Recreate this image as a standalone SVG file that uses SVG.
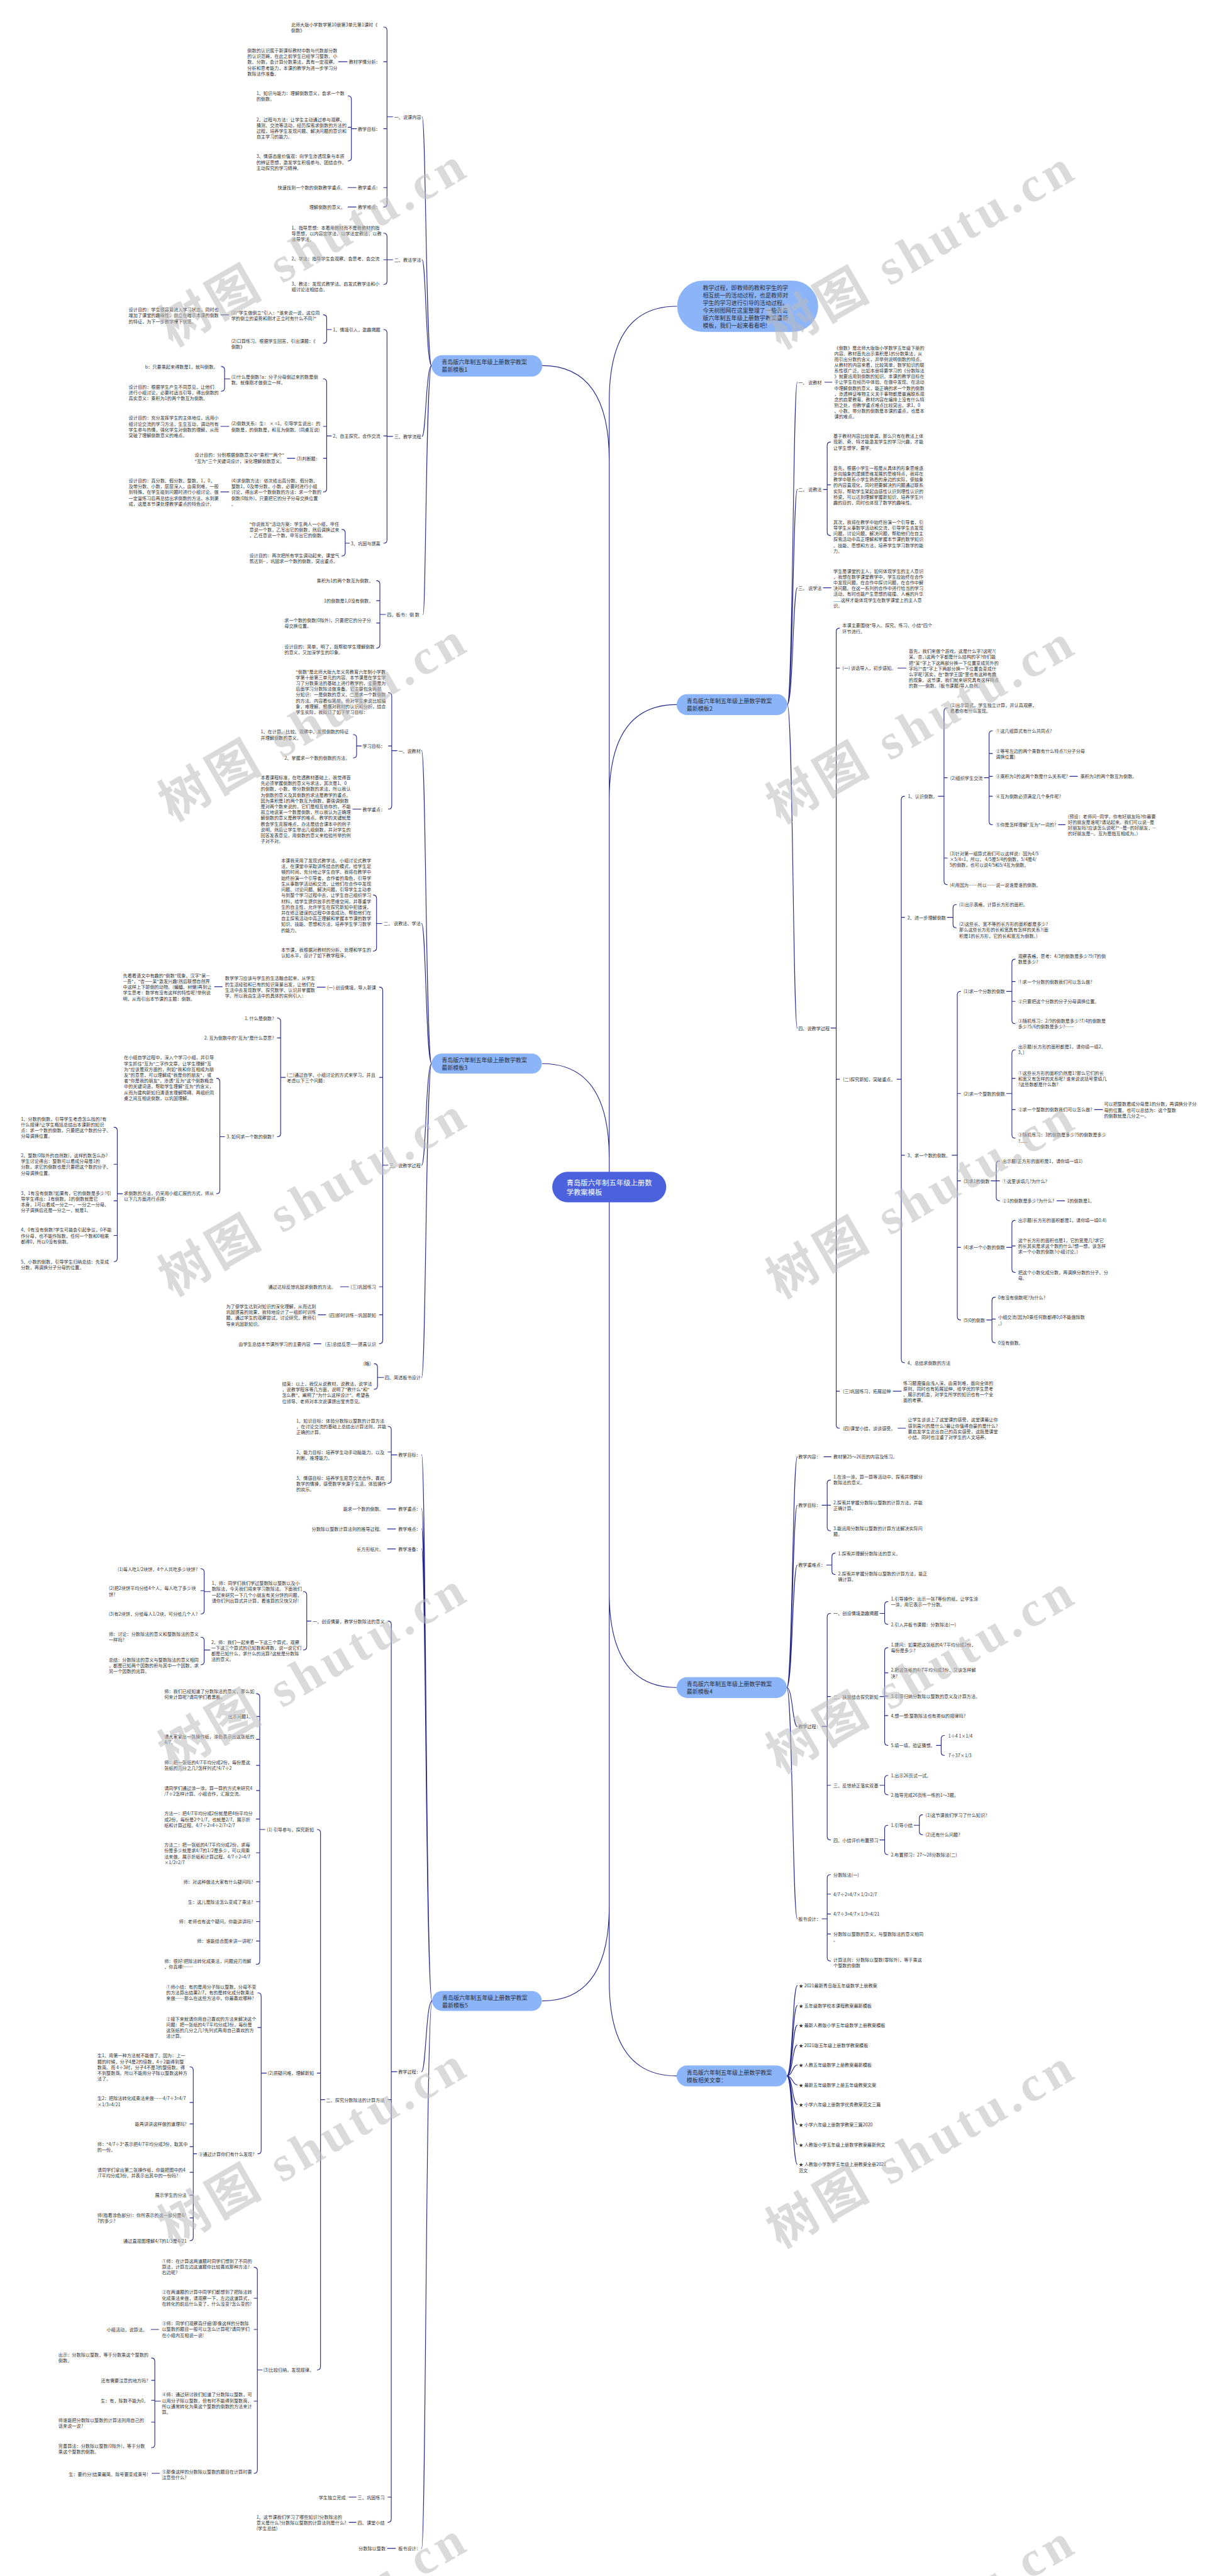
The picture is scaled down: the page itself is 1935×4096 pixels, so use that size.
<svg xmlns="http://www.w3.org/2000/svg" width="1935" height="4096" viewBox="0 0 1935 4096">
<style>
text,tspan{dominant-baseline:central}
.t{font-family:"Noto Sans CJK SC","Liberation Sans",sans-serif;font-size:9.5px;fill:#333}
.e{text-anchor:end}
.nt{font-family:"Noto Sans CJK SC","Liberation Sans",sans-serif;font-size:12px;fill:#2b2f3a}
.rt{font-family:"Noto Sans CJK SC","Liberation Sans",sans-serif;font-size:15px;fill:#fff}
.c{fill:none;stroke:#27298a;stroke-width:1.5;stroke-linecap:round}
.nd{fill:#8cb4f8}
.wm{font-family:"Liberation Serif","Noto Sans CJK SC",serif;font-size:105px;font-weight:bold;fill:#bdbdbd;opacity:.55}
</style>
<rect width="1935" height="4096" fill="#fff"/>
<g transform="scale(0.755)">
<g id="connectors">
<path class="c" d="M1142 770Q1283 770 1283 970V2500M1142 2240Q1283 2240 1283 2440V2500M1142 4214Q1283 4214 1283 4014V2500M1425 645Q1283 645 1283 845V2500M1425 1484Q1283 1484 1283 1684V2500M1425 3554Q1283 3554 1283 3354V2500M1425 4372Q1283 4372 1283 4172V2500"/>
<path class="c" d="M909 770C897 770 897 246 889 246M909 770C897 770 897 547 889 547M909 770C897 770 897 919 889 919M909 770C897 770 897 1294 891 1294"/>
<path class="c" d="M827 246H815M808 57Q815 57 815 64V429Q815 436 808 436M815 130H808M815 271H808M815 395H808M713 130H731M751 271H740M733 202Q740 202 740 209V332Q740 339 733 339M740 268H733M733 395H750M733 436H750"/>
<path class="c" d="M827 547H815M808 491Q815 491 815 498V592Q815 599 808 599M815 547H808"/>
<path class="c" d="M827 919H815M808 694Q815 694 815 701V1137Q815 1144 808 1144M815 918H808M698 694H688M681 663Q688 663 688 670V716Q688 723 681 723M465 663H482M698 918H688M681 798Q688 798 688 805V1029Q688 1036 681 1036M688 898H681M688 965H681M484 798H473M466 772Q473 772 473 779V817Q473 824 466 824M465 898H482M605 965H621M465 1036H482M736 1144H727M720 1115Q727 1115 727 1122V1164Q727 1171 720 1171"/>
<path class="c" d="M812 1294H800M793 1223Q800 1223 800 1230V1358Q800 1365 793 1365M800 1265H793M800 1312H793"/>
<path class="c" d="M909 2240C897 2240 897 1581 888 1581M909 2240C897 2240 897 1945 888 1945M909 2240C897 2240 897 2454 888 2454M909 2240C897 2240 897 2901 888 2901"/>
<path class="c" d="M836 1581H825M818 1459Q825 1459 825 1466V1697Q825 1704 818 1704M825 1571H818M761 1571H751M744 1547Q751 1547 751 1554V1589Q751 1596 744 1596M743 1704H760"/>
<path class="c" d="M804 1945H793M786 1885Q793 1885 793 1892V1996Q793 2003 786 2003"/>
<path class="c" d="M817 2454H806M799 2079Q806 2079 806 2086V2823Q806 2830 799 2830M806 2269H799M806 2710H799M806 2769H799M668 2079H685M452 2078H468M601 2269H591M584 2144Q591 2144 591 2151V2387Q591 2394 584 2394M591 2186H584M473 2394H463M456 2271Q463 2271 463 2278V2507Q463 2514 456 2514M258 2514H247M240 2374Q247 2374 247 2381V2650Q247 2657 240 2657M247 2452H240M247 2529H240M247 2602H240M717 2710H734M670 2769H686M661 2830H676"/>
<path class="c" d="M808 2901H795M788 2872Q795 2872 795 2879V2919Q795 2926 788 2926"/>
<path class="c" d="M910 4214C897 4214 897 3064 888 3064M910 4214C897 4214 897 3178 888 3178M910 4214C897 4214 897 3220 888 3220M910 4214C897 4214 897 3262 888 3262M910 4214C897 4214 897 4363 888 4363M910 4214C897 4214 897 5367 888 5367"/>
<path class="c" d="M836 3064H824M817 3004Q824 3004 824 3011V3117Q824 3124 817 3124M824 3058H817M816 3178H833M816 3220H833M816 3262H833M816 5367H833"/>
<path class="c" d="M836 4363H824M817 3414Q824 3414 824 3421V5305Q824 5312 817 5312M824 4422H817M824 5259H817M655 3414H646M639 3352Q646 3352 646 3359V3468Q646 3475 639 3475M443 3352H430M423 3304Q430 3304 430 3311V3392Q430 3399 423 3399M430 3350H423M442 3475H430M423 3448Q430 3448 430 3455V3499Q430 3506 423 3506"/>
<path class="c" d="M684 4422H675M668 3853Q675 3853 675 3860V4984Q675 4991 668 4991M675 4366H668M558 3853H547M540 3567Q547 3567 547 3574V4130Q547 4137 540 4137M547 3615H540M547 3663H540M547 3718H540M547 3771H540M547 3831H540M547 3902H540M547 3963H540M547 4005H540M547 4047H540M547 4088H540"/>
<path class="c" d="M561 4366H550M543 4197Q550 4197 550 4204V4529Q550 4536 543 4536M550 4270H543M414 4536H407M400 4353Q407 4353 407 4360V4712Q407 4719 400 4719M407 4428H400M407 4473H400M407 4521H400M407 4575H400M407 4623H400M407 4671H400"/>
<path class="c" d="M552 4991H542M535 4775Q542 4775 542 4782V5202Q542 5209 535 5209M542 4840H535M542 4906H535M542 5057H535M318 4906H334M338 5057H326M319 4966Q326 4966 326 4973V5148Q326 5155 319 5155M326 5013H319M326 5055H319M326 5101H319M320 5209H336M735 5259H750M735 5312H750"/>
<path class="c" d="M1658 1484C1670 1484 1670 805 1679 805M1658 1484C1670 1484 1670 1031 1679 1031M1658 1484C1670 1484 1670 1238 1679 1238M1658 1484C1670 1484 1670 2165 1679 2165"/>
<path class="c" d="M1737 805H1752M1734 1031H1742M1749 931Q1742 931 1742 938V1121Q1742 1128 1749 1128M1742 1021H1749M1734 1238H1750"/>
<path class="c" d="M1750 2165H1761M1768 1323Q1761 1323 1761 1330V3001Q1761 3008 1768 3008M1761 1407H1768M1761 2273H1768M1761 2930H1768M1891 1407H1908M1881 2930H1898M1891 3008H1907"/>
<path class="c" d="M1889 2273H1898M1905 1677Q1898 1677 1898 1684V2863Q1898 2870 1905 2870M1898 1932H1905M1898 2433H1905M1976 1677H1988M1995 1491Q1988 1491 1988 1498V1856Q1988 1863 1995 1863M1988 1638H1995M1988 1807H1995M2073 1638H2083M2090 1539Q2083 1539 2083 1546V1730Q2083 1737 2090 1737M2083 1587H2090M2083 1635H2090M2083 1677H2090M2253 1635H2269M2229 1737H2243"/>
<path class="c" d="M1995 1932H2007M2014 1905Q2007 1905 2007 1912V1947Q2007 1954 2014 1954M2005 2433H2016M2023 2088Q2016 2088 2016 2095V2773Q2016 2780 2023 2780M2016 2303H2023M2016 2487H2023M2016 2627H2023"/>
<path class="c" d="M2120 2088H2131M2138 2020Q2131 2020 2131 2027V2149Q2131 2156 2138 2156M2131 2067H2138M2131 2109H2138M2120 2303H2131M2138 2211Q2131 2211 2131 2218V2390Q2131 2397 2138 2397M2131 2271H2138M2131 2337H2138M2305 2337H2322M2087 2487H2098M2105 2445Q2098 2445 2098 2452V2522Q2098 2529 2105 2529M2098 2487H2105M2226 2529H2242M2120 2627H2131M2138 2570Q2131 2570 2131 2577V2673Q2131 2680 2138 2680M2131 2624H2138M2078 2780H2089M2096 2732Q2089 2732 2089 2739V2821Q2089 2828 2096 2828M2089 2778H2096"/>
<path class="c" d="M1657 3554C1669 3554 1669 3068 1679 3068M1657 3554C1669 3554 1669 3170 1679 3170M1657 3554C1669 3554 1669 3296 1679 3296M1657 3554C1669 3554 1669 3636 1679 3636M1657 3554C1669 3554 1669 4041 1679 4041"/>
<path class="c" d="M1735 3068H1750M1731 3170H1742M1749 3117Q1742 3117 1742 3124V3217Q1742 3224 1749 3224M1742 3170H1749M1741 3296H1752M1759 3271Q1752 3271 1752 3278V3309Q1752 3316 1759 3316"/>
<path class="c" d="M1731 3636H1742M1749 3398Q1742 3398 1742 3405V3868Q1742 3875 1749 3875M1742 3573H1749M1742 3760H1749M1853 3398H1863M1870 3373Q1863 3373 1863 3380V3414Q1863 3421 1870 3421M1853 3573H1863M1870 3470Q1863 3470 1863 3477V3669Q1863 3676 1870 3676M1863 3523H1870M1863 3572H1870M1863 3613H1870M1972 3676H1982M1989 3655Q1982 3655 1982 3662V3690Q1982 3697 1989 3697M1853 3760H1863M1870 3739Q1863 3739 1863 3746V3773Q1863 3780 1870 3780M1853 3875H1863M1870 3844Q1863 3844 1863 3851V3899Q1863 3906 1870 3906M1925 3844H1936M1943 3822Q1936 3822 1936 3829V3857Q1936 3864 1943 3864"/>
<path class="c" d="M1731 4041H1742M1749 3948Q1742 3948 1742 3955V4123Q1742 4130 1749 4130M1742 3989H1749M1742 4031H1749M1742 4073H1749"/>
<path class="c" d="M1657 4372C1669 4372 1669 4182 1679 4182M1657 4372C1669 4372 1669 4224 1679 4224M1657 4372C1669 4372 1669 4265 1679 4265M1657 4372C1669 4372 1669 4307 1679 4307M1657 4372C1669 4372 1669 4349 1679 4349M1657 4372C1669 4372 1669 4391 1679 4391M1657 4372C1669 4372 1669 4432 1679 4432M1657 4372C1669 4372 1669 4474 1679 4474M1657 4372C1669 4372 1669 4516 1679 4516M1657 4372C1669 4372 1669 4558 1679 4558"/>
</g>

<g id="root"><rect x="1163" y="2468" width="240" height="64" rx="32" fill="#4b62dc"/><text class="rt" x="1193" y="2490"><tspan x="1193" dy="0">青岛版六年制五年级上册数</tspan><tspan x="1193" dy="20">学教案模板</tspan></text></g>

<g id="intro"><rect class="nd" x="1426" y="591" width="297" height="108" rx="54"/><text class="nt" x="1480" y="605"><tspan x="1480" dy="0">教学过程，即教师的教和学生的学</tspan><tspan x="1480" dy="16">相互统一的活动过程，也是教师对</tspan><tspan x="1480" dy="16">学生的学习进行引导的活动过程。</tspan><tspan x="1480" dy="16">今天树图网在这里整理了一些青岛</tspan><tspan x="1480" dy="16">版六年制五年级上册数学教案最新</tspan><tspan x="1480" dy="16">模板，我们一起来看看吧!</tspan></text></g>

<g id="branch1">
<rect class="nd" x="909" y="748" width="233" height="45" rx="22.5"/><text class="nt" x="930" y="762"><tspan x="930" dy="0">青岛版六年制五年级上册数学教案</tspan><tspan x="930" dy="16">最新模板1</tspan></text>
<text class="t" x="830" y="246">一、说课内容</text>
<text class="t" x="613" y="52"><tspan x="613" dy="0">北师大版小学数学第10册第3单元第1课时《</tspan><tspan x="613" dy="12.2">倒数》</tspan></text>
<text class="t e" x="801" y="130">教材学情分析：</text>
<text class="t" x="521" y="106"><tspan x="521" dy="0">倒数的认识属于新课标教材中数与代数部分数</tspan><tspan x="521" dy="12.2">的认识范畴，在此之前学生已经学习整数、小</tspan><tspan x="521" dy="12.2">数、分数，会计算分数乘法，具有一定观察、</tspan><tspan x="521" dy="12.2">分析和思考能力，本课的教学为进一步学习分</tspan><tspan x="521" dy="12.2">数除法作准备。</tspan></text>
<text class="t e" x="801" y="271">教学目标：</text>
<text class="t" x="540" y="196"><tspan x="540" dy="0">1、知识与能力：理解倒数意义，会求一个数</tspan><tspan x="540" dy="12.2">的倒数。</tspan></text>
<text class="t" x="540" y="251"><tspan x="540" dy="0">2、过程与方法：让学生主动通过参与观察、</tspan><tspan x="540" dy="12.2">猜测、交流等活动，经历探索求倒数的方法的</tspan><tspan x="540" dy="12.2">过程，培养学生发现问题、解决问题的意识和</tspan><tspan x="540" dy="12.2">自主学习的能力。</tspan></text>
<text class="t" x="540" y="329"><tspan x="540" dy="0">3、情感态度价值观：向学生渗透现象与本质</tspan><tspan x="540" dy="12.2">的辨证思想，激发学生积极参与、团结合作、</tspan><tspan x="540" dy="12.2">主动探究的学习精神。</tspan></text>
<text class="t e" x="801" y="395">教学重点：</text>
<text class="t e" x="727" y="395">快速找到一个数的倒数教学重点。</text>
<text class="t e" x="801" y="436">教学难点：</text>
<text class="t e" x="727" y="436">理解倒数的意义。</text>
<text class="t" x="830" y="547">二、教法学法</text>
<text class="t" x="614" y="479"><tspan x="614" dy="0">1、指导思想：本着用教材而不是教教材的指</tspan><tspan x="614" dy="12.2">导思想，以内容定学法，以学法定教法，以教</tspan><tspan x="614" dy="12.2">法导学法。</tspan></text>
<text class="t" x="614" y="545"><tspan x="614" dy="0">2、学法：指导学生会观察、会思考、会交流</tspan><tspan x="614" dy="12.2">。</tspan></text>
<text class="t" x="614" y="597"><tspan x="614" dy="0">3、教法：发现式教学法、启发式教学法和小</tspan><tspan x="614" dy="12.2">组讨论法相结合。</tspan></text>
<text class="t" x="830" y="919">三、教学流程</text>
<text class="t e" x="801" y="694">1、情境引入，激趣揭题</text>
<text class="t" x="487" y="658"><tspan x="487" dy="0">(1)"学生做倒立"引入："谁来说一说，这位同</tspan><tspan x="487" dy="12.2">学的倒立的姿势和刚才正立时有什么不同?"</tspan></text>
<text class="t" x="271" y="652"><tspan x="271" dy="0">设计目的：学生很容易进入学习状态，同时也</tspan><tspan x="271" dy="12.2">增加了课堂的趣味性，倒立在暗示本课的倒数</tspan><tspan x="271" dy="12.2">的特征，为下一步教学埋下伏笔。</tspan></text>
<text class="t" x="487" y="718"><tspan x="487" dy="0">(2)口算练习。根据学生回答，引出课题：《</tspan><tspan x="487" dy="12.2">倒数》</tspan></text>
<text class="t e" x="801" y="918">2、自主探究，合作交流</text>
<text class="t" x="487" y="793"><tspan x="487" dy="0">(1)什么是倒数?a：分子分母倒过来的数是倒</tspan><tspan x="487" dy="12.2">数。就像刚才做倒立一样。</tspan></text>
<text class="t e" x="459" y="772">b：只要乘起来得数是1，就叫倒数。</text>
<text class="t" x="271" y="814"><tspan x="271" dy="0">设计目的：根据学生产生不同意见，让他们</tspan><tspan x="271" dy="12.2">进行小组讨论，必要时适当引导，得出倒数的</tspan><tspan x="271" dy="12.2">真实意义：乘积为1的两个数互为倒数。</tspan></text>
<text class="t" x="487" y="892"><tspan x="487" dy="0">(2)倒数关系：生：  × =1。引导学生说出：的</tspan><tspan x="487" dy="12.2">倒数是，的倒数是，和互为倒数。(同桌互说)</tspan></text>
<text class="t" x="271" y="880"><tspan x="271" dy="0">设计目的：充分发挥学生的主体地位，运用小</tspan><tspan x="271" dy="12.2">组讨论交流的学习方法，生生互动，调动所有</tspan><tspan x="271" dy="12.2">学生参与热情，强化学生对倒数的理解，从而</tspan><tspan x="271" dy="12.2">突破了理解倒数意义的难点。</tspan></text>
<text class="t e" x="674" y="965">(3)判断题：</text>
<text class="t" x="410" y="958"><tspan x="410" dy="0">设计目的：分别根据倒数意义中"乘积""两个"</tspan><tspan x="410" dy="12.2">"互为"三个关键词设计，深化理解倒数意义。</tspan></text>
<text class="t" x="487" y="1012"><tspan x="487" dy="0">(4)求倒数方法：依次给出真分数、假分数、</tspan><tspan x="487" dy="12.2">整数1，0及带分数，小数，必要时进行小组</tspan><tspan x="487" dy="12.2">讨论，得出求一个数倒数的方法：求一个数的</tspan><tspan x="487" dy="12.2">倒数(0除外)，只要把它的分子分母交换位置</tspan><tspan x="487" dy="12.2">。</tspan></text>
<text class="t" x="271" y="1012"><tspan x="271" dy="0">设计目的：真分数、假分数、整数、1，0，</tspan><tspan x="271" dy="12.2">及带分数、小数，层层深入，由易到难，一般</tspan><tspan x="271" dy="12.2">到特殊，在学生碰到问题时进行小组讨论。做</tspan><tspan x="271" dy="12.2">一定量练习后再总结出求倒数的方法，水到渠</tspan><tspan x="271" dy="12.2">成，这是本节课处理教学重点的特色设计。</tspan></text>
<text class="t e" x="801" y="1144">3、巩固与提高</text>
<text class="t" x="525" y="1103"><tspan x="525" dy="0">"你说我写"活动方案：学生两人一小组，甲任</tspan><tspan x="525" dy="12.2">意说一个数，乙写出它的倒数，然后调换过来</tspan><tspan x="525" dy="12.2">，乙任意说一个数，甲写出它的倒数。</tspan></text>
<text class="t" x="525" y="1169"><tspan x="525" dy="0">设计目的：再次把所有学生调动起来，课堂气</tspan><tspan x="525" dy="12.2">氛达到--，巩固求一个数的倒数，突出重点。</tspan></text>
<text class="t" x="815" y="1294">四、板书：倒 数</text>
<text class="t e" x="786" y="1223">乘积为1的两个数互为倒数。</text>
<text class="t e" x="786" y="1265">1的倒数是1,0没有倒数。</text>
<text class="t" x="599" y="1306"><tspan x="599" dy="0">求一个数的倒数(0除外)，只要把它的分子分</tspan><tspan x="599" dy="12.2">母交换位置。</tspan></text>
<text class="t" x="599" y="1361"><tspan x="599" dy="0">设计目的：简单，明了，既帮助学生理解倒数</tspan><tspan x="599" dy="12.2">的意义，又加深学生的印象。</tspan></text>
</g>

<g id="branch3">
<rect class="nd" x="909" y="2219" width="232" height="42" rx="21"/><text class="nt" x="930" y="2232"><tspan x="930" dy="0">青岛版六年制五年级上册数学教案</tspan><tspan x="930" dy="16">最新模板3</tspan></text>
<text class="t e" x="886" y="1581">一、说教材</text>
<text class="t" x="623" y="1414"><tspan x="623" dy="0">"倒数"是北师大版九年义务教育六年制小学数</tspan><tspan x="623" dy="12.2">学第十册第三单元的内容。本节课是在学生学</tspan><tspan x="623" dy="12.2">习了分数乘法的基础上进行教学的，主要是为</tspan><tspan x="623" dy="12.2">后面学习分数除法做准备。它主要包含两部</tspan><tspan x="623" dy="12.2">分知识：一是倒数的意义，二是求一个数倒数</tspan><tspan x="623" dy="12.2">的方法。内容看似简单，但对学生来说比较抽</tspan><tspan x="623" dy="12.2">象，难理解。根据对教材的认识和分析，结合</tspan><tspan x="623" dy="12.2">学生实际，我拟订了如下学习目标：</tspan></text>
<text class="t e" x="811" y="1571">学习目标：</text>
<text class="t" x="549" y="1541"><tspan x="549" dy="0">1、在计算、比较、观察中，发现倒数的特征</tspan><tspan x="549" dy="12.2">并理解倒数的意义。</tspan></text>
<text class="t e" x="737" y="1596">2、掌握求一个数的倒数的方法。</text>
<text class="t e" x="811" y="1704">教学重点：</text>
<text class="t" x="549" y="1637"><tspan x="549" dy="0">本着课程标准，在吃透教材基础上，我觉得首</tspan><tspan x="549" dy="12.2">先必须掌握倒数的意义与求法，其次是1、0</tspan><tspan x="549" dy="12.2">的倒数，小数，带分数倒数的求法，所以我认</tspan><tspan x="549" dy="12.2">为倒数的意义及其倒数的求法是教学的重点。</tspan><tspan x="549" dy="12.2">因为乘积是1的两个数互为倒数，要强调倒数</tspan><tspan x="549" dy="12.2">是对两个数来说的，它们是相互依存的，不能</tspan><tspan x="549" dy="12.2">孤立地说某一个数是倒数，所以我认为正确理</tspan><tspan x="549" dy="12.2">解倒数的意义是教学的难点。教学的关键就是</tspan><tspan x="549" dy="12.2">教会学生克服难点，办法是结合课本中的例子</tspan><tspan x="549" dy="12.2">说明，然后让学生举出几组倒数，并对学生的</tspan><tspan x="549" dy="12.2">回答发表意见，用倒数的意义来检验所举的例</tspan><tspan x="549" dy="12.2">子对不对。</tspan></text>
<text class="t e" x="886" y="1945">二、 说教法、学法</text>
<text class="t" x="592" y="1812"><tspan x="592" dy="0">本课我采用了发现式教学法、小组讨论式教学</tspan><tspan x="592" dy="12.2">法，在课堂中采取讲练结合的模式，给学生足</tspan><tspan x="592" dy="12.2">够的时间，充分地让学生自学。我将在教学中</tspan><tspan x="592" dy="12.2">始终扮演一个引导者，合作者的角色，引导学</tspan><tspan x="592" dy="12.2">生从事数学活动和交流，让他们在合作中发现</tspan><tspan x="592" dy="12.2">问题、讨论问题、解决问题，引导学生主动参</tspan><tspan x="592" dy="12.2">与到整个学习过程中去，让学生自己组织学习</tspan><tspan x="592" dy="12.2">材料，给学生提供放手的思维空间，并尊重学</tspan><tspan x="592" dy="12.2">生的自主性，允许学生在探究新知中犯错误，</tspan><tspan x="592" dy="12.2">并在修正错误的过程中体会成功。帮助他们在</tspan><tspan x="592" dy="12.2">自主探索活动中真正理解和掌握本节课的数学</tspan><tspan x="592" dy="12.2">知识、技能、思想和方法，培养学生学习数学</tspan><tspan x="592" dy="12.2">的能力。</tspan></text>
<text class="t" x="592" y="2000"><tspan x="592" dy="0">本节课，我根据对教材的分析、处理和学生的</tspan><tspan x="592" dy="12.2">认知水平，设计了如下教学程序。</tspan></text>
<text class="t e" x="886" y="2454">三、说教学过程</text>
<text class="t e" x="792" y="2079">(一) 创设情境，导入新课</text>
<text class="t" x="474" y="2060"><tspan x="474" dy="0">数学学习应该与学生的生活融合起来，从学生</tspan><tspan x="474" dy="12.2">的生活经验和已有的知识背景出发，让他们在</tspan><tspan x="474" dy="12.2">生活中去发现数学、探究数学、认识并掌握数</tspan><tspan x="474" dy="12.2">学。所以我由生活中的具体的实例引入：</tspan></text>
<text class="t" x="259" y="2054"><tspan x="259" dy="0">先看看语文中有趣的"倒数"现象，汉字"吴—</tspan><tspan x="259" dy="12.2">—吾"，"杏——呆"激发兴趣!然后联想自然界</tspan><tspan x="259" dy="12.2">中这样上下颠倒的动物。(蝙蝠、树懒)再到让</tspan><tspan x="259" dy="12.2">学生思考：数学有没有这样的特性呢?举例说</tspan><tspan x="259" dy="12.2">明，从而引出本节课的主题：倒数。</tspan></text>
<text class="t" x="604" y="2263"><tspan x="604" dy="0">(二)通过自学、小组讨论的方式来学习，并且</tspan><tspan x="604" dy="12.2">考虑以下三个问题：</tspan></text>
<text class="t e" x="577" y="2144">1. 什么是倒数?</text>
<text class="t e" x="577" y="2186">2. 互为倒数中的"互为"是什么意思?</text>
<text class="t e" x="577" y="2394">3. 如何求一个数的倒数?</text>
<text class="t" x="261" y="2227"><tspan x="261" dy="0">在小组自学过程中，深入个学习小组，并引导</tspan><tspan x="261" dy="12.2">学生抓住"互为"二字作文章，让学生理解"互</tspan><tspan x="261" dy="12.2">为"应该是双方面的，例如"我和你互相成为朋</tspan><tspan x="261" dy="12.2">友"的意思，可以理解成"我是你的朋友"，或</tspan><tspan x="261" dy="12.2">者"你是我的朋友"，渗透"互为"这个倒数概念</tspan><tspan x="261" dy="12.2">中的关键词语，帮助学生理解"互为"的含义，</tspan><tspan x="261" dy="12.2">从而为建构新知扫清语言理解障碍。再组织同</tspan><tspan x="261" dy="12.2">桌之间互相说倒数，以巩固理解。</tspan></text>
<text class="t" x="261" y="2512"><tspan x="261" dy="0">求倒数的方法，仍采用小组汇报的方式，师从</tspan><tspan x="261" dy="12.2">以下几方面进行点拨：</tspan></text>
<text class="t" x="44" y="2356"><tspan x="44" dy="0">1、分数的倒数，引导学生考虑怎么找的?有</tspan><tspan x="44" dy="12.2">什么规律?让学生概括总结出本课新的知识</tspan><tspan x="44" dy="12.2">点：求一个数的倒数，只要把这个数的分子、</tspan><tspan x="44" dy="12.2">分母调换位置。</tspan></text>
<text class="t" x="44" y="2433"><tspan x="44" dy="0">2、整数(0除外的自然数)，这样的数怎么办?</tspan><tspan x="44" dy="12.2">学生讨论得出：整数可以看成分母是1的</tspan><tspan x="44" dy="12.2">分数，求它的倒数也是只要把这个数的分子、</tspan><tspan x="44" dy="12.2">分母调换位置。</tspan></text>
<text class="t" x="44" y="2512"><tspan x="44" dy="0">3、1有没有倒数?如果有，它的倒数是多少?引</tspan><tspan x="44" dy="12.2">导学生得出：1有倒数，1的倒数就是它</tspan><tspan x="44" dy="12.2">本身，1可以看成一分之一，一分之一分母、</tspan><tspan x="44" dy="12.2">分子调换后还是一分之一，就是1。</tspan></text>
<text class="t" x="44" y="2590"><tspan x="44" dy="0">4、0有没有倒数?学生可能会引起争议，0不能</tspan><tspan x="44" dy="12.2">作分母，也不能作除数，任何一个数和0相乘</tspan><tspan x="44" dy="12.2">都得0，所以0没有倒数。</tspan></text>
<text class="t" x="44" y="2657"><tspan x="44" dy="0">5、小数的倒数，引导学生归纳总结：先变成</tspan><tspan x="44" dy="12.2">分数，再调换分子分母的位置。</tspan></text>
<text class="t e" x="792" y="2710">(三)巩固练习</text>
<text class="t e" x="707" y="2710">通过达标反馈巩固求倒数的方法。</text>
<text class="t e" x="792" y="2769">(四)即时训练—巩固新知</text>
<text class="t" x="476" y="2751"><tspan x="476" dy="0">为了使学生达到对知识的深化理解，从而达到</tspan><tspan x="476" dy="12.2">巩固提高的效果，我特地设计了一组即时训练</tspan><tspan x="476" dy="12.2">题，通过学生的观察尝试，讨论研究，教师引</tspan><tspan x="476" dy="12.2">导来巩固新知识。</tspan></text>
<text class="t e" x="792" y="2830">(五)总结反思——提高认识</text>
<text class="t e" x="654" y="2830">由学生总结本节课所学习的主要内容</text>
<text class="t e" x="886" y="2901">四、简述板书设计</text>
<text class="t e" x="781" y="2872">(略)</text>
<text class="t" x="594" y="2914"><tspan x="594" dy="0">结束：以上，我仅从说教材，说教法，说学法</tspan><tspan x="594" dy="12.2">，说教学程序等几方面，说明了"教什么"和"</tspan><tspan x="594" dy="12.2">怎么教"，阐明了"为什么这样设计"。希望各</tspan><tspan x="594" dy="12.2">位领导、老师对本次说课提出宝贵意见。</tspan></text>
</g>

<g id="branch5">
<rect class="nd" x="910" y="4193" width="231" height="42" rx="21"/><text class="nt" x="931" y="4206"><tspan x="931" dy="0">青岛版六年制五年级上册数学教案</tspan><tspan x="931" dy="16">最新模板5</tspan></text>
<text class="t e" x="886" y="3064">教学目标：</text>
<text class="t" x="624" y="2992"><tspan x="624" dy="0">1、知识目标：体验分数除以整数的计算方法</tspan><tspan x="624" dy="12.2">，在讨论交流的基础上总结出计算法则，并能</tspan><tspan x="624" dy="12.2">正确的计算。</tspan></text>
<text class="t" x="624" y="3058"><tspan x="624" dy="0">2、能力目标：培养学生动手动脑能力，以及</tspan><tspan x="624" dy="12.2">判断、推理能力。</tspan></text>
<text class="t" x="624" y="3112"><tspan x="624" dy="0">3、情感目标：培养学生愿意交流合作，喜欢</tspan><tspan x="624" dy="12.2">数学的情操，感受数学来源于生活，体验操作</tspan><tspan x="624" dy="12.2">的欢乐。</tspan></text>
<text class="t e" x="886" y="3178">教学重点：</text>
<text class="t e" x="808" y="3178">能求一个数的倒数。</text>
<text class="t e" x="886" y="3220">教学难点：</text>
<text class="t e" x="808" y="3220">分数除以整数计算法则的推导过程。</text>
<text class="t e" x="886" y="3262">教学准备：</text>
<text class="t e" x="808" y="3262">长方形纸片。</text>
<text class="t e" x="886" y="4363">教学过程：</text>
<text class="t e" x="810" y="3414">一、创设情景，教学分数除法的意义</text>
<text class="t" x="446" y="3334"><tspan x="446" dy="0">1、师：同学们我们学过整数除以整数以及小</tspan><tspan x="446" dy="12.2">数除法，今天我们将来学习数除法。下面我们</tspan><tspan x="446" dy="12.2">一起来研究一下几个小朋友有关分饼的问题，</tspan><tspan x="446" dy="12.2">请你们列出算式并计算，看谁算的又快又好!</tspan></text>
<text class="t e" x="416" y="3304">(1)每人吃1/2块饼，4个人共吃多少块饼?</text>
<text class="t" x="229" y="3345"><tspan x="229" dy="0">(2)把2块饼平均分给4个人，每人吃了多少块</tspan><tspan x="229" dy="12.2">饼?</tspan></text>
<text class="t e" x="416" y="3399">(3)有2块饼，分给每人1/2块，可分给几个人?</text>
<text class="t" x="445" y="3458"><tspan x="445" dy="0">2、师：我们一起来看一下这三个算式，观察</tspan><tspan x="445" dy="12.2">一下这三个算式的已知数和得数，说一说它们</tspan><tspan x="445" dy="12.2">都是已知什么，求什么的运算?这就是分数除</tspan><tspan x="445" dy="12.2">法的意义。</tspan></text>
<text class="t" x="229" y="3441"><tspan x="229" dy="0">师：讨论：分数除法的意义和整数除法的意义</tspan><tspan x="229" dy="12.2">一样吗?</tspan></text>
<text class="t" x="229" y="3495"><tspan x="229" dy="0">总结：分数除法的意义与整数除法的意义相同</tspan><tspan x="229" dy="12.2">，都是已知两个因数的积与其中一个因数，求</tspan><tspan x="229" dy="12.2">另一个因数的运算。</tspan></text>
<text class="t e" x="810" y="4422">二、探究分数除法的计算方法</text>
<text class="t e" x="661" y="3853">(1) 引导参与，探究新知</text>
<text class="t" x="346" y="3561"><tspan x="346" dy="0">师：我们已经知道了分数除法的意义，那么如</tspan><tspan x="346" dy="12.2">何来计算呢?请同学们看黑板。</tspan></text>
<text class="t e" x="533" y="3615">出示问题1。</text>
<text class="t" x="346" y="3657"><tspan x="346" dy="0">请大家拿出一张操作纸，涂色表示出这张纸的</tspan><tspan x="346" dy="12.2">4/7。</tspan></text>
<text class="t" x="346" y="3711"><tspan x="346" dy="0">师：把一张纸的4/7平均分成2份，每份是这</tspan><tspan x="346" dy="12.2">张纸的几分之几?怎样列式?4/7÷2</tspan></text>
<text class="t" x="346" y="3765"><tspan x="346" dy="0">请同学们通过涂一涂，算一算的方式来研究4</tspan><tspan x="346" dy="12.2">/7÷2怎样计算。小组合作，汇报交流。</tspan></text>
<text class="t" x="346" y="3819"><tspan x="346" dy="0">方法一：把4/7平均分成2份就是把4份平均分</tspan><tspan x="346" dy="12.2">成2份，每份是2个1/7，也就是2/7。展示折</tspan><tspan x="346" dy="12.2">纸和计算过程。4/7÷2=4÷2/7=2/7</tspan></text>
<text class="t" x="346" y="3885"><tspan x="346" dy="0">方法二：把一张纸的4/7平均分成2份，求每</tspan><tspan x="346" dy="12.2">份是多少就是求4/7的1/2是多少，可以用乘</tspan><tspan x="346" dy="12.2">法来做。展示折纸和计算过程。4/7÷2=4/7</tspan><tspan x="346" dy="12.2">×1/2=2/7</tspan></text>
<text class="t e" x="533" y="3963">师：对这种做法大家有什么疑问吗?</text>
<text class="t e" x="533" y="4005">生：这儿是除法怎么变成了乘法?</text>
<text class="t e" x="533" y="4047">师：老师也有这个疑问，你能讲讲吗?</text>
<text class="t e" x="533" y="4088">师：谁能结合图来讲一讲呢?</text>
<text class="t" x="346" y="4130"><tspan x="346" dy="0">师：很好!把除法转化成乘法，问题迎刃而解</tspan><tspan x="346" dy="12.2">，你真棒!……</tspan></text>
<text class="t e" x="661" y="4366">(2)质疑问难，理解新知</text>
<text class="t" x="350" y="4184"><tspan x="350" dy="0">①师小结：有的是用分子除以整数，分母不变</tspan><tspan x="350" dy="12.2">的方法算出结果2/7，有的是转化成分数乘法</tspan><tspan x="350" dy="12.2">来做……那么在这些方法中，你最喜欢哪种?</tspan></text>
<text class="t" x="350" y="4251"><tspan x="350" dy="0">②接下来就请你用自己喜欢的方法来解决这个</tspan><tspan x="350" dy="12.2">问题：把一张纸的4/7平均分成3份，每份是</tspan><tspan x="350" dy="12.2">这张纸的几分之几?先列式再用自己喜欢的方</tspan><tspan x="350" dy="12.2">法计算。</tspan></text>
<text class="t e" x="536" y="4536">③通过计算你们有什么发现?</text>
<text class="t" x="205" y="4329"><tspan x="205" dy="0">生1、用第一种方法就不能做了。因为：上一</tspan><tspan x="205" dy="12.2">题的时候，分子4是2的倍数，4÷2能得到整</tspan><tspan x="205" dy="12.2">数商。而 4÷3时，分子4不是3的整倍数，得</tspan><tspan x="205" dy="12.2">不到整数商。所以不能用分子除以整数这种方</tspan><tspan x="205" dy="12.2">法了。</tspan></text>
<text class="t" x="205" y="4419"><tspan x="205" dy="0">生2：把除法转化成乘法来做……4/7÷3=4/7</tspan><tspan x="205" dy="12.2">×1/3=4/21</tspan></text>
<text class="t e" x="393" y="4473">能再讲讲这样做的道理吗?</text>
<text class="t" x="205" y="4515"><tspan x="205" dy="0">师："4/7÷3"表示把4/7平均分成3份，取其中</tspan><tspan x="205" dy="12.2">的一份。</tspan></text>
<text class="t" x="205" y="4569"><tspan x="205" dy="0">请同学们拿出第二张操作纸，你能把图中的4</tspan><tspan x="205" dy="12.2">/7平均分成3份，并表示出其中的一份吗?</tspan></text>
<text class="t e" x="393" y="4623">展示学生的分法</text>
<text class="t" x="205" y="4665"><tspan x="205" dy="0">师(指着涂色部分)：你所表示的这一部分是4/</tspan><tspan x="205" dy="12.2">7的多少?</tspan></text>
<text class="t e" x="393" y="4719">通过直观图理解4/7的1/3是4/21</text>
<text class="t e" x="661" y="4991">(3)比较归纳，发现规律。</text>
<text class="t" x="341" y="4761"><tspan x="341" dy="0">①师：在计算这两道题时同学们想到了不同的</tspan><tspan x="341" dy="12.2">算法，计算左边这道题你比较喜欢那种方法?</tspan><tspan x="341" dy="12.2">右边呢?</tspan></text>
<text class="t" x="341" y="4827"><tspan x="341" dy="0">②在两道题的计算中同学们都想到了把除法转</tspan><tspan x="341" dy="12.2">化成乘法来做，请观察一下，左边这道算式，</tspan><tspan x="341" dy="12.2">在转化的前后什么变了，什么没变?怎么变的?</tspan></text>
<text class="t" x="341" y="4893"><tspan x="341" dy="0">③师：同学们观察真仔细!那像这样的分数除</tspan><tspan x="341" dy="12.2">以整数的题目一般可以怎么计算呢?请同学们</tspan><tspan x="341" dy="12.2">在小组内互相说一说!</tspan></text>
<text class="t e" x="310" y="4906">小组活动，说算法。</text>
<text class="t" x="341" y="5043"><tspan x="341" dy="0">④师：通过研讨我们知道了分数除以整数，可</tspan><tspan x="341" dy="12.2">以用分子除以整数，但有时不能得到整数商，</tspan><tspan x="341" dy="12.2">所以通常转化为乘这个整数的倒数的方法来计</tspan><tspan x="341" dy="12.2">算。</tspan></text>
<text class="t" x="123" y="4959"><tspan x="123" dy="0">出示：分数除以整数，等于分数乘这个整数的</tspan><tspan x="123" dy="12.2">倒数。</tspan></text>
<text class="t e" x="312" y="5013">还有需要注意的地方吗?</text>
<text class="t e" x="312" y="5055">生：有，除数不能为0。</text>
<text class="t" x="123" y="5097"><tspan x="123" dy="0">师谁能把分数除以整数的计算法则用自己的</tspan><tspan x="123" dy="12.2">话来说一说?</tspan></text>
<text class="t" x="123" y="5151"><tspan x="123" dy="0">完善算法：分数除以整数(0除外)，等于分数</tspan><tspan x="123" dy="12.2">乘这个整数的倒数。</tspan></text>
<text class="t" x="341" y="5205"><tspan x="341" dy="0">⑤那像这样的分数除以整数的题目在计算时要</tspan><tspan x="341" dy="12.2">注意些什么?</tspan></text>
<text class="t e" x="312" y="5211">生：要约分!结果最简。除号要变成乘号!</text>
<text class="t e" x="810" y="5259">三、巩固练习</text>
<text class="t e" x="728" y="5259">学生独立完成</text>
<text class="t e" x="810" y="5312">四、课堂小结</text>
<text class="t" x="540" y="5300"><tspan x="540" dy="0">1、这节课我们学习了哪些知识?分数除法的</tspan><tspan x="540" dy="12.2">意义是什么?分数除以整数的计算法则是什么?</tspan><tspan x="540" dy="12.2">(学生总结)</tspan></text>
<text class="t e" x="886" y="5367">板书设计：</text>
<text class="t e" x="812" y="5367">分数除以整数</text>
</g>

<g id="branch2">
<rect class="nd" x="1425" y="1462" width="233" height="44" rx="22"/><text class="nt" x="1446" y="1476"><tspan x="1446" dy="0">青岛版六年制五年级上册数学教案</tspan><tspan x="1446" dy="16">最新模板2</tspan></text>
<text class="t" x="1681" y="805">一、 说教材</text>
<text class="t" x="1757" y="732"><tspan x="1757" dy="0">《倒数》是北师大版版小学数学五年级下册的</tspan><tspan x="1757" dy="12.1">内容。教材首先出示乘积是1的分数乘法，从</tspan><tspan x="1757" dy="12.1">而引出分数的含义，并举例说明倒数的特点。</tspan><tspan x="1757" dy="12.1">从教材的内容来看，比较简单，数学知识的联</tspan><tspan x="1757" dy="12.1">系性很广泛，比如本册将要学习的《分数除法</tspan><tspan x="1757" dy="12.1">》就要运用到倒数的知识。本课的教学目标在</tspan><tspan x="1757" dy="12.1">于让学生在经历中体验、在做中发现、在活动</tspan><tspan x="1757" dy="12.1">中理解倒数的意义，能正确的求一个数的倒数</tspan><tspan x="1757" dy="12.1">，渗透辨证唯物主义关于事物都是普遍联系观</tspan><tspan x="1757" dy="12.1">念的启蒙教育。教材内容在编排上没有什么特</tspan><tspan x="1757" dy="12.1">别之处，但教学重点难点比较突出，求1、0</tspan><tspan x="1757" dy="12.1">、小数、带分数的倒数是本课的重点，也是本</tspan><tspan x="1757" dy="12.1">课的难点。</tspan></text>
<text class="t" x="1681" y="1031">二、 说教法</text>
<text class="t" x="1755" y="918"><tspan x="1755" dy="0">基于教材内容比较单调，那么只有在教法上体</tspan><tspan x="1755" dy="12.2">现新、奇、特才能激发学生的学习兴趣，才能</tspan><tspan x="1755" dy="12.2">让学生想学，要学。</tspan></text>
<text class="t" x="1755" y="985"><tspan x="1755" dy="0">首先，根据小学生一般是从具体的形象思维逐</tspan><tspan x="1755" dy="12.2">步向抽象的逻辑思维发展的思维特点，我将在</tspan><tspan x="1755" dy="12.2">教学中联系小学生熟悉的身边的实际，使抽象</tspan><tspan x="1755" dy="12.2">的内容直观化，同时把要解决的问题通过联系</tspan><tspan x="1755" dy="12.2">实际，帮助学生架起由感性认识到理性认识的</tspan><tspan x="1755" dy="12.2">桥梁，可以达到理解掌握新知识，培养学生兴</tspan><tspan x="1755" dy="12.2">趣的目的，同时也体现了数学的趣味性。</tspan></text>
<text class="t" x="1755" y="1099"><tspan x="1755" dy="0">其次，我将在教学中始终扮演一个引导者，引</tspan><tspan x="1755" dy="12.2">导学生从事数学活动和交流，引导学生去发现</tspan><tspan x="1755" dy="12.2">问题，讨论问题，解决问题，帮助他们在自主</tspan><tspan x="1755" dy="12.2">探索活动中真正理解和掌握本节课的数学知识</tspan><tspan x="1755" dy="12.2">、技能、思想和方法，培养学生学习数学的能</tspan><tspan x="1755" dy="12.2">力。</tspan></text>
<text class="t" x="1681" y="1238">三、 说学法</text>
<text class="t" x="1755" y="1202"><tspan x="1755" dy="0">学生是课堂的主人，如何体现学生的主人意识</tspan><tspan x="1755" dy="12.2">，我想在数学课堂教学中，学生应始终在合作</tspan><tspan x="1755" dy="12.2">中发现问题，在合作中探讨问题，在合作中解</tspan><tspan x="1755" dy="12.2">决问题。在这一系列的合作中进行恰当的学习</tspan><tspan x="1755" dy="12.2">活动，有时也能产生思想的碰撞、人格的升华</tspan><tspan x="1755" dy="12.2">......这样才能体现学生在数学课堂上的主人意</tspan><tspan x="1755" dy="12.2">识。</tspan></text>
<text class="t" x="1681" y="2165">四、说教学过程</text>
<text class="t" x="1774" y="1317"><tspan x="1774" dy="0">本课主要围绕"导入、探究、练习、小结"四个</tspan><tspan x="1774" dy="12.2">环节进行。</tspan></text>
<text class="t" x="1774" y="1407">(一) 谈话导入，初步感知。</text>
<text class="t" x="1914" y="1371"><tspan x="1914" dy="0">首先，我们来做个游戏，这是什么字?这呢?(</tspan><tspan x="1914" dy="12.2">呆、杏、)这两个字都是什么结构的字?你们能</tspan><tspan x="1914" dy="12.2">把"呆"字上下这两部分换一下位置变成另外的</tspan><tspan x="1914" dy="12.2">字吗?"杏"字上下两部分换一下位置会变成什</tspan><tspan x="1914" dy="12.2">么字呢?其实，在"数学王国"里也有这种有趣</tspan><tspan x="1914" dy="12.2">的现象。这节课，我们就来研究具有这样特点</tspan><tspan x="1914" dy="12.2">的数——倒数。(板书课题)导入自然。</tspan></text>
<text class="t" x="1775" y="2273">(二)探究新知，突破重点。</text>
<text class="t" x="1912" y="1677">1、认识倒数。</text>
<text class="t" x="2001" y="1485"><tspan x="2001" dy="0">(1)出示算式，学生独立计算，并认真观察，</tspan><tspan x="2001" dy="12.2">看看你有什么发现。</tspan></text>
<text class="t" x="2001" y="1638">(2)组织学生交流</text>
<text class="t" x="2097" y="1539">①这几组算式有什么共同点?</text>
<text class="t" x="2097" y="1581"><tspan x="2097" dy="0">②等号左边的两个乘数有什么特点?(分子分母</tspan><tspan x="2097" dy="12.2">调换位置)</tspan></text>
<text class="t" x="2097" y="1635">③乘积为1的这两个数是什么关系呢?</text>
<text class="t" x="2275" y="1635">乘积为1的两个数互为倒数。</text>
<text class="t" x="2097" y="1677">④互为倒数必须满足几个条件呢?</text>
<text class="t" x="2097" y="1737">⑤你是怎样理解"互为"一词的?</text>
<text class="t" x="2249" y="1719"><tspan x="2249" dy="0">(预设：老师问--同学，你有好朋友吗?你最要</tspan><tspan x="2249" dy="12.2">好的朋友是谁呢?请站起来。我们可以说--是</tspan><tspan x="2249" dy="12.2">好朋友吗?应该怎么说呢?"--是--的好朋友，--</tspan><tspan x="2249" dy="12.2">的好朋友是--。互为是指互相成为。)</tspan></text>
<text class="t" x="2000" y="1797"><tspan x="2000" dy="0">(3)针对第一组算式我们可以这样说：因为4/5</tspan><tspan x="2000" dy="12.2">×5/4=1，所以， 4/5是5/4的倒数，5/4是4/</tspan><tspan x="2000" dy="12.2">5的倒数，也可以说4/5和5/4互为倒数。</tspan></text>
<text class="t" x="2000" y="1863">(4)用因为……所以……说一说谁是谁的倒数。</text>
<text class="t" x="1911" y="1932">2、进一步理解倒数</text>
<text class="t" x="2020" y="1905">(1)出示表格，计算长方形的面积。</text>
<text class="t" x="2020" y="1946"><tspan x="2020" dy="0">(2)这些长、宽不等的长方形的面积都是多少?</tspan><tspan x="2020" dy="12.2">那么这些长方形的长和宽具有怎样的关系?(面</tspan><tspan x="2020" dy="12.2">积是1的长方形，它的长和宽互为倒数。)</tspan></text>
<text class="t" x="1911" y="2433">3、求一个数的倒数。</text>
<text class="t" x="2029" y="2088">(1)求一个分数的倒数</text>
<text class="t" x="2144" y="2013"><tspan x="2144" dy="0">观察表格，思考：4/3的倒数是多少?9/7的倒</tspan><tspan x="2144" dy="12.2">数是多少?</tspan></text>
<text class="t" x="2144" y="2067">①求一个分数的倒数我们可以怎么做?</text>
<text class="t" x="2144" y="2109">②只要把这个分数的分子分母调换位置。</text>
<text class="t" x="2144" y="2150"><tspan x="2144" dy="0">③随机练习：2/9的倒数是多少?7/4的倒数是</tspan><tspan x="2144" dy="12.2">多少?5/6的倒数是多少?……</tspan></text>
<text class="t" x="2029" y="2303">(2)求一个整数的倒数</text>
<text class="t" x="2144" y="2204"><tspan x="2144" dy="0">出示题(长方形的面积都是1，请你填一填2、</tspan><tspan x="2144" dy="12.2">3、)</tspan></text>
<text class="t" x="2144" y="2259"><tspan x="2144" dy="0">①这些长方形的面积仍然是1?那么它们的长</tspan><tspan x="2144" dy="12.2">和宽又有怎样的关系呢? 谁来说说括号里填几</tspan><tspan x="2144" dy="12.2">?这些数都是什么数?</tspan></text>
<text class="t" x="2144" y="2337">②求一个整数的倒数我们可以怎么做?</text>
<text class="t" x="2325" y="2325"><tspan x="2325" dy="0">可以把整数看成分母是1的分数，再调换分子分</tspan><tspan x="2325" dy="12.2">母的位置。也可以总结为：这个整数</tspan><tspan x="2325" dy="12.2">的倒数就是几分之一。</tspan></text>
<text class="t" x="2144" y="2390"><tspan x="2144" dy="0">③随机练习：3的倒数是多少?5的倒数是多少</tspan><tspan x="2144" dy="12.2">?......</tspan></text>
<text class="t" x="2029" y="2487">(3)求1的倒数</text>
<text class="t" x="2111" y="2445">出示题(正方形的面积是1，请你填一填1)</text>
<text class="t" x="2111" y="2487">①这里该填几?为什么?</text>
<text class="t" x="2111" y="2529">②1的倒数是多少?为什么?</text>
<text class="t" x="2247" y="2529">1的倒数是1。</text>
<text class="t" x="2029" y="2627">(4)求一个小数的倒数</text>
<text class="t" x="2144" y="2570">出示题(长方形的面积都是1，请你填一填0.4)</text>
<text class="t" x="2144" y="2612"><tspan x="2144" dy="0">这个长方形的面积也是1，它的宽是几?求它</tspan><tspan x="2144" dy="12.2">的长其实是求这个数的什么?想一想，该怎样</tspan><tspan x="2144" dy="12.2">求一个小数的倒数?小组讨论。)</tspan></text>
<text class="t" x="2144" y="2679"><tspan x="2144" dy="0">把这个小数化成分数，再调换分数的分子、分</tspan><tspan x="2144" dy="12.2">母。</tspan></text>
<text class="t" x="2029" y="2780">(5)0的倒数</text>
<text class="t" x="2102" y="2732">0有没有倒数呢?为什么?</text>
<text class="t" x="2102" y="2774"><tspan x="2102" dy="0">小组交流(因为0乘任何数都得0;0不能做除数</tspan><tspan x="2102" dy="12.2">。)</tspan></text>
<text class="t" x="2102" y="2828">0没有倒数。</text>
<text class="t" x="1911" y="2870">4、总结求倒数的方法</text>
<text class="t" x="1775" y="2930">(三)巩固练习，拓展延伸</text>
<text class="t" x="1902" y="2912"><tspan x="1902" dy="0">练习题遵循由浅入深、由易到难，面向全体的</tspan><tspan x="1902" dy="12.2">原则，同时也有拓展延伸，给学优的学生思考</tspan><tspan x="1902" dy="12.2">、展示的机会，对学生所学的知识也有一个全</tspan><tspan x="1902" dy="12.2">面的考察。</tspan></text>
<text class="t" x="1775" y="3008">(四)课堂小结，谈谈感受。</text>
<text class="t" x="1912" y="2990"><tspan x="1912" dy="0">让学生谈谈上了这堂课的感受，这堂课最让你</tspan><tspan x="1912" dy="12.2">感到高兴的是什么?最让你值得自豪的是什么?</tspan><tspan x="1912" dy="12.2">要启发学生说出自己的真实感受，这既是课堂</tspan><tspan x="1912" dy="12.2">小结，同时也注重了对学生的人文培养。</tspan></text>
</g>

<g id="branch4">
<rect class="nd" x="1425" y="3532" width="232" height="44" rx="22"/><text class="nt" x="1446" y="3546"><tspan x="1446" dy="0">青岛版六年制五年级上册数学教案</tspan><tspan x="1446" dy="16">最新模板4</tspan></text>
<text class="t" x="1681" y="3068">教学内容：</text>
<text class="t" x="1755" y="3068">教材第25～26页的内容及练习。</text>
<text class="t" x="1681" y="3170">教学目标：</text>
<text class="t" x="1755" y="3110"><tspan x="1755" dy="0">1.在涂一涂，算一算等活动中，探索并理解分</tspan><tspan x="1755" dy="12.2">数除法的意义。</tspan></text>
<text class="t" x="1755" y="3164"><tspan x="1755" dy="0">2.探索并掌握分数除以整数的计算方法，并能</tspan><tspan x="1755" dy="12.2">正确计算。</tspan></text>
<text class="t" x="1755" y="3218"><tspan x="1755" dy="0">3.能运用分数除以整数的计算方法解决实际问</tspan><tspan x="1755" dy="12.2">题。</tspan></text>
<text class="t" x="1681" y="3296">教学重难点：</text>
<text class="t" x="1765" y="3271">1.探索并理解分数除法的意义。</text>
<text class="t" x="1765" y="3314"><tspan x="1765" dy="0">2.探索并掌握分数除以整数的计算方法，能正</tspan><tspan x="1765" dy="12.2">确计算。</tspan></text>
<text class="t" x="1681" y="3636">教学过程：</text>
<text class="t" x="1755" y="3398">一、创设情境激趣揭题</text>
<text class="t" x="1876" y="3367"><tspan x="1876" dy="0">1.引导操作：出示一张7等份的纸，让学生涂</tspan><tspan x="1876" dy="12.2">一涂，用它表示一个分数。</tspan></text>
<text class="t" x="1876" y="3421">2.引入并板书课题：分数除法(一)</text>
<text class="t" x="1755" y="3573">二、扶放结合探究新知</text>
<text class="t" x="1876" y="3463"><tspan x="1876" dy="0">1.提问：如果把这张纸的4/7平均分成2份，</tspan><tspan x="1876" dy="12.2">每份是多少?</tspan></text>
<text class="t" x="1876" y="3517"><tspan x="1876" dy="0">2.把这张纸的4/7平均分成3份，又该怎样解</tspan><tspan x="1876" dy="12.2">决?</tspan></text>
<text class="t" x="1876" y="3572">3.引导归纳分数除以整数的意义及计算方法。</text>
<text class="t" x="1876" y="3613">4.想一想:整数除法也有类似的规律吗?</text>
<text class="t" x="1876" y="3676">5.填一填，验证猜想。</text>
<text class="t" x="1997" y="3655">1÷4 1×1/4</text>
<text class="t" x="1997" y="3697">7÷37×1/3</text>
<text class="t" x="1755" y="3760">三、反馈矫正落实双基</text>
<text class="t" x="1876" y="3739">1.出示26页试一试。</text>
<text class="t" x="1876" y="3780">2.指导完成26页练一练的1～3题。</text>
<text class="t" x="1755" y="3875">四、小结评价布置预习</text>
<text class="t" x="1876" y="3844">1.引导小结</text>
<text class="t" x="1949" y="3822">(1)这节课我们学习了什么知识?</text>
<text class="t" x="1949" y="3864">(2)还有什么问题?</text>
<text class="t" x="1876" y="3906">2.布置预习：27～28分数除法(二)</text>
<text class="t" x="1681" y="4041">板书设计：</text>
<text class="t" x="1755" y="3948">分数除法(一)</text>
<text class="t" x="1755" y="3989">4/7÷2=4/7×1/2=2/7</text>
<text class="t" x="1755" y="4031">4/7÷3=4/7×1/3=4/21</text>
<text class="t" x="1755" y="4073"><tspan x="1755" dy="0">分数除以整数的意义，与整数除法的意义相同</tspan><tspan x="1755" dy="12.2">。</tspan></text>
<text class="t" x="1755" y="4127"><tspan x="1755" dy="0">计算法则：分数除以整数(零除外)，等于乘这</tspan><tspan x="1755" dy="12.2">个整数的倒数</tspan></text>
</g>

<g id="branch6">
<rect class="nd" x="1425" y="4350" width="232" height="44" rx="22"/><text class="nt" x="1446" y="4364"><tspan x="1446" dy="0">青岛版六年制五年级上册数学教案</tspan><tspan x="1446" dy="16">模板相关文章：</tspan></text>
<text class="t" x="1682" y="4182">★ 2021最新青岛版五年级数学上册教案</text>
<text class="t" x="1682" y="4224">★ 五年级数学校本课程教案最新模板</text>
<text class="t" x="1682" y="4265">★ 最新人教版小学五年级数学上册教案模板</text>
<text class="t" x="1682" y="4307">★ 2021版五年级上册数学教案模板</text>
<text class="t" x="1682" y="4349">★ 人教五年级数学上册教案最新模板</text>
<text class="t" x="1682" y="4391">★ 最新五年级数学上册五年级教案文案</text>
<text class="t" x="1682" y="4432">★ 小学六年级上册数学优秀教案范文三篇</text>
<text class="t" x="1682" y="4474">★ 小学六年级上册数学教案三篇2020</text>
<text class="t" x="1682" y="4516">★ 人教版小学五年级上册数学教案最新例文</text>
<text class="t" x="1682" y="4558"><tspan x="1682" dy="0">★ 人教版小学数学五年级上册教案全册2021</tspan><tspan x="1682" dy="12.2">范文</tspan></text>
</g>

<g id="watermarks">
<text class="wm" transform="translate(345 700) rotate(-30)" textLength="720">树图 shutu.cn</text>
<text class="wm" transform="translate(345 1700) rotate(-30)" textLength="720">树图 shutu.cn</text>
<text class="wm" transform="translate(345 2700) rotate(-30)" textLength="720">树图 shutu.cn</text>
<text class="wm" transform="translate(345 3700) rotate(-30)" textLength="720">树图 shutu.cn</text>
<text class="wm" transform="translate(345 4700) rotate(-30)" textLength="720">树图 shutu.cn</text>
<text class="wm" transform="translate(345 5700) rotate(-30)" textLength="720">树图 shutu.cn</text>
<text class="wm" transform="translate(1625 705) rotate(-30)" textLength="720">树图 shutu.cn</text>
<text class="wm" transform="translate(1625 1705) rotate(-30)" textLength="720">树图 shutu.cn</text>
<text class="wm" transform="translate(1625 2705) rotate(-30)" textLength="720">树图 shutu.cn</text>
<text class="wm" transform="translate(1625 3705) rotate(-30)" textLength="720">树图 shutu.cn</text>
<text class="wm" transform="translate(1625 4705) rotate(-30)" textLength="720">树图 shutu.cn</text>
<text class="wm" transform="translate(1625 5705) rotate(-30)" textLength="720">树图 shutu.cn</text>
</g>
</g>
</svg>
